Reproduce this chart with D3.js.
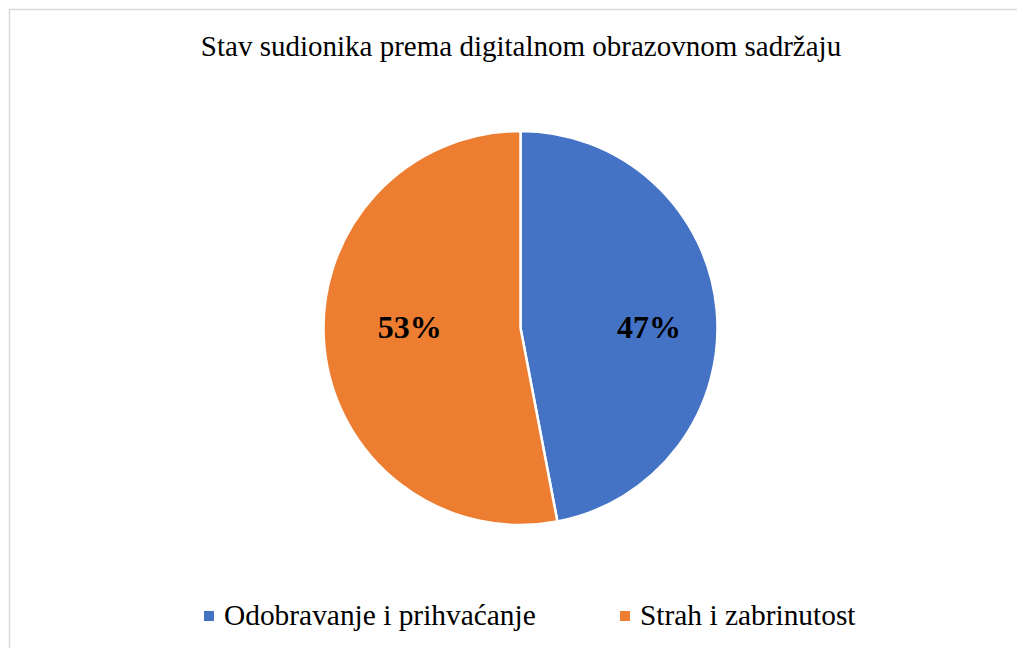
<!DOCTYPE html>
<html><head><meta charset="utf-8">
<script src="https://cdn.jsdelivr.net/npm/d3@7"></script>
<style>body{margin:0;background:#fff}svg{display:block}</style>
</head><body>
<svg id="c" width="1017" height="648"></svg>
<script>
const title = "Stav sudionika prema digitalnom obrazovnom sadržaju";
const categories = ["Odobravanje i prihvaćanje", "Strah i zabrinutost"];
const values = [47, 53];
const labels = ["47%", "53%"];
const colors = ["#4472C4", "#ED7D31"];

const svg = d3.select("#c");
const font = "'Liberation Serif','Times New Roman',serif";
svg.append("rect").attr("x", 9.5).attr("y", 9.5).attr("width", 1020).attr("height", 660)
  .attr("fill", "#fff").attr("stroke", "#d9d9d9").attr("stroke-width", 1.5);

svg.append("text").attr("x", 521).attr("y", 56).attr("text-anchor", "middle")
  .attr("font-family", font).attr("font-size", 29).attr("fill", "#000").text(title);

const cx = 520.5, cy = 328, r = 197;
const pie = d3.pie().sort(null).value(d => d)(values);
const arc = d3.arc().innerRadius(0).outerRadius(r);
const g = svg.append("g").attr("transform", `translate(${cx},${cy})`);
g.selectAll("path").data(pie).join("path").attr("d", arc)
  .attr("fill", (d, i) => colors[i]).attr("stroke", "#fff").attr("stroke-width", 2.5);
const labelR = [0.655, 0.565];
g.selectAll("text").data(pie).join("text")
  .attr("transform", (d, i) => {
    const a = (d.startAngle + d.endAngle) / 2;
    return `translate(${Math.sin(a) * r * labelR[i]},0)`;
  })
  .attr("text-anchor", "middle").attr("y", 10)
  .attr("font-family", font).attr("font-weight", "bold").attr("font-size", 32)
  .text((d, i) => labels[i]);

const legX = [204, 620];
const lg = svg.append("g");
categories.forEach((c, i) => {
  lg.append("rect").attr("x", legX[i]).attr("y", 611).attr("width", 10).attr("height", 10).attr("fill", colors[i]);
  lg.append("text").attr("x", legX[i] + 20).attr("y", 625).attr("font-family", font)
    .attr("font-size", 29.4).attr("fill", "#000").text(c);
});
</script>
</body></html>
